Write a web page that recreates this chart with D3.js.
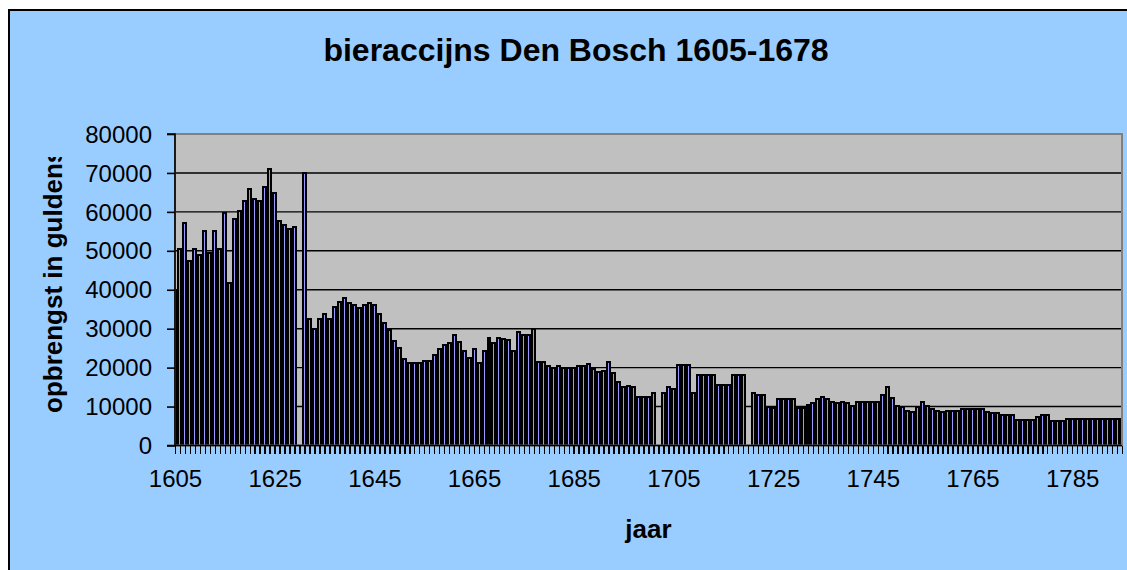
<!DOCTYPE html>
<html><head><meta charset="utf-8">
<script src="https://cdn.jsdelivr.net/npm/d3@7"></script>
<style>html,body{margin:0;padding:0;background:#fff;} svg{display:block;font-family:"Liberation Sans",Arial,sans-serif;}</style>
</head><body><svg id="c" width="1127" height="570"></svg>
<script>
// categories: years 1605..1795
const years = d3.range(1605, 1796);
// revenue (opbrengst in guldens); null = missing year
const revenue = [
 40000,50400,57200,47400,50400,48900,55100,49400,55100,50400,
 59800,41700,58200,60200,62900,65800,63400,62800,66500,70900,
 64900,57700,56600,55600,56200,null,70000,32400,29800,32400,
 33900,32400,35500,36900,38000,36500,36100,35400,36100,36500,
 36100,33900,31400,29700,26800,25100,22100,21100,21100,21100,
 21700,21700,23200,24700,25700,26300,28400,26700,24300,22600,
 24700,21100,24300,27700,26400,27700,27300,27100,24300,29200,
 28400,28400,29900,21500,21500,20500,20000,20500,20000,20000,
 20000,20500,20500,20900,19600,19000,19100,21500,18500,16400,
 14900,15400,14900,12400,12400,12400,13400,null,13400,14900,
 14400,20700,20700,20700,13400,18100,18100,18100,18100,15500,
 15500,15500,18100,18100,18100,null,13400,13000,13000,9800,
 9700,11900,11900,11900,11900,9700,9700,10400,10800,11900,
 12400,11900,11200,10800,11200,10800,10100,11200,11200,11200,
 11200,11200,13000,14900,12300,10100,9800,8900,8700,9800,
 11200,10200,9500,8900,8500,8900,8900,8900,9400,9400,
 9400,9400,9400,8700,8300,8300,7800,7800,7800,6600,
 6600,6600,6600,7300,7800,7800,6200,6200,6200,6800,
 6800,6800,6800,6800,6800,6800,6800,6800,6800,6800,
 6800
];
const yTicks = [0,10000,20000,30000,40000,50000,60000,70000,80000];
const xTickLabels = [1605,1625,1645,1665,1685,1705,1725,1745,1765,1785];

const svg = d3.select('#c');
const L = 175, R = 1122, T = 134, B = 445.5;

// chart area
svg.append('rect').attr('x',9).attr('y',10).attr('width',1200).attr('height',700)
  .attr('fill','#99CCFF').attr('stroke','#000').attr('stroke-width',2);

// plot area background
svg.append('rect').attr('x',L).attr('y',T).attr('width',R-L).attr('height',B-T).attr('fill','#C0C0C0');

const x = d3.scalePoint().domain(years).range([L, R]).padding(0);
const y = d3.scaleLinear().domain([0, 80000]).range([B, T]);
const step = x.step();

// gridlines
svg.append('g').selectAll('line').data(yTicks.filter(t => t > 0 && t < 80000)).join('line')
  .attr('x1', L).attr('x2', R).attr('y1', d => y(d)).attr('y2', d => y(d))
  .attr('stroke', '#000').attr('stroke-width', 1.4);

// clip
svg.append('clipPath').attr('id','pc').append('rect')
  .attr('x', L).attr('y', T - 5).attr('width', R - L).attr('height', B - T + 5);

const sw = 2;
const bw = step - sw;
const data = years.map((yr, i) => ({yr, v: revenue[i]})).filter(d => d.v != null);
svg.append('g').attr('clip-path','url(#pc)').selectAll('rect').data(data).join('rect')
  .attr('x', d => x(d.yr) - bw/2).attr('width', bw)
  .attr('y', d => y(d.v)).attr('height', d => y(0) - y(d.v))
  .attr('fill', '#9999FF').attr('stroke', '#000').attr('stroke-width', sw)
  .attr('shape-rendering', 'crispEdges');

// plot border
svg.append('rect').attr('x',L).attr('y',T).attr('width',R-L).attr('height',B-T)
  .attr('fill','none').attr('stroke','#808080').attr('stroke-width',2);

// y axis
const yAxis = d3.axisLeft(y).tickValues(yTicks).tickSize(8).tickPadding(14).tickFormat(d3.format('d'));
const gy = svg.append('g').attr('transform', `translate(${L},0)`).call(yAxis);
gy.select('.domain').attr('stroke','#000').attr('stroke-width',1.6).attr('d', `M-8,${T}H0V${B}H-8`);
gy.selectAll('.tick line').attr('stroke','#000').attr('stroke-width',1.6);
gy.selectAll('.tick text').attr('font-size', 24).attr('fill','#000')
  .attr('font-family','"Liberation Sans",Arial,sans-serif').attr('dy','0.34em').attr('x', -23);

// x axis
const xAxis = d3.axisBottom(x).tickSize(8).tickPadding(16)
  .tickFormat(d => xTickLabels.includes(d) ? String(d) : '');
const gx = svg.append('g').attr('transform', `translate(0,${B})`).call(xAxis);
gx.select('.domain').attr('stroke','#000').attr('stroke-width',1.6).attr('d', `M${L},0H${R}`);
gx.selectAll('.tick line').attr('stroke','#000').attr('stroke-width',1.5).attr('shape-rendering','crispEdges');
gx.selectAll('.tick text').attr('font-size', 24).attr('fill','#000')
  .attr('font-family','"Liberation Sans",Arial,sans-serif');

// title
svg.append('text').attr('x', 576).attr('y', 61).attr('text-anchor','middle')
  .attr('font-size', 32).attr('font-weight','bold').text('bieraccijns Den Bosch 1605-1678');

// x axis title
svg.append('text').attr('x', (L+R)/2).attr('y', 538).attr('text-anchor','middle')
  .attr('font-size', 26).attr('font-weight','bold').text('jaar');

// y axis title (clipped at top as in original)
svg.append('clipPath').attr('id','yc').append('rect').attr('x',0).attr('y',157).attr('width',170).attr('height',400);
svg.append('g').attr('clip-path','url(#yc)').append('text')
  .attr('transform','translate(62,413) rotate(-90)').attr('text-anchor','start')
  .attr('font-size', 26).attr('font-weight','bold').text('opbrengst in guldens');
</script></body></html>
